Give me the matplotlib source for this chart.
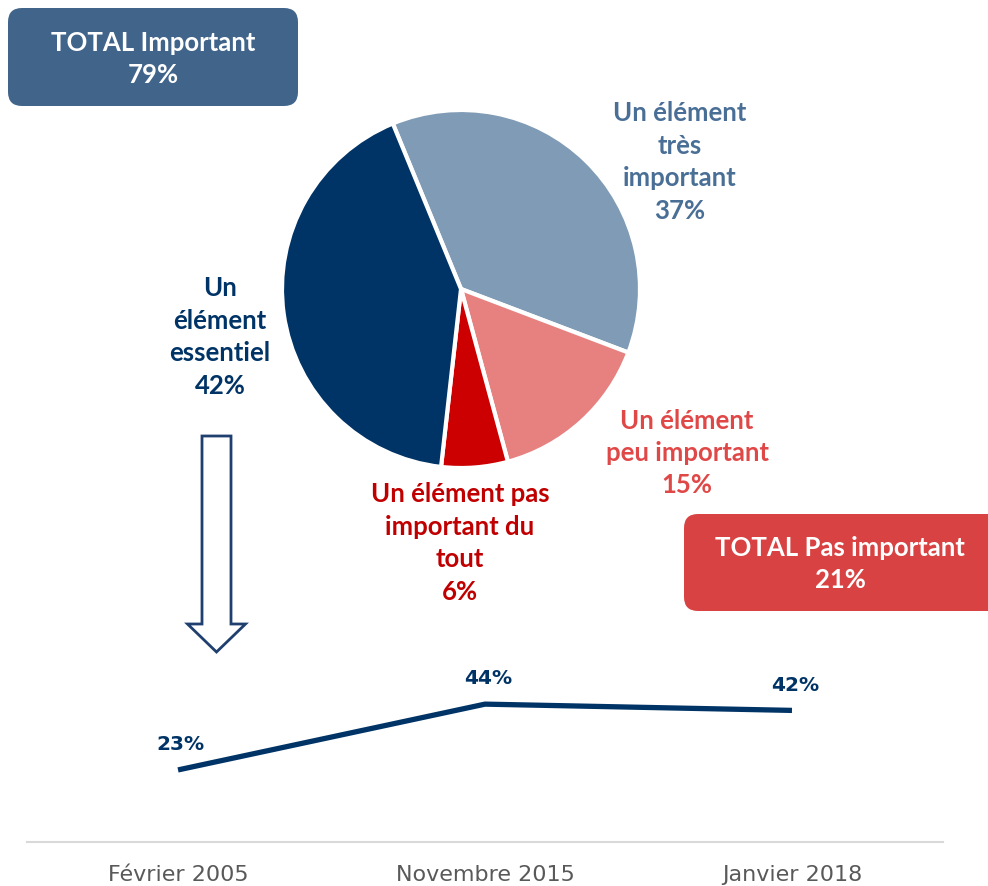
import matplotlib
matplotlib.use("Agg")
import matplotlib.pyplot as plt
from matplotlib.patches import FancyBboxPatch, FancyArrow

# pie data (clockwise from the top-left separator)
pie_labels = ["Un élément\ntrès\nimportant", "Un élément\npeu important",
              "Un élément pas\nimportant du\ntout", "Un\nélément\nessentiel"]
pie_values = [37, 15, 6, 42]
pie_colors = ["#7F9BB5", "#E6817F", "#CC0000", "#003366"]
text_colors = ["#4A6F96", "#E04848", "#C00000", "#003366"]
label_pos = [(680, 162), (687, 453), (460, 543), (220, 337)]  # pixel centres

# trend data
dates = ["Février 2005", "Novembre 2015", "Janvier 2018"]
essentiel = [23, 44, 42]

totals = [("TOTAL Important", 79), ("TOTAL Pas important", 21)]

W, H = 988, 887
fig = plt.figure(figsize=(W / 100, H / 100), dpi=100)
plt.rcParams["font.family"] = ["Lato", "DejaVu Sans"]

def fx(px):
    return px / W

def fy(py):
    return 1 - py / H

# --- pie ---
cx, cy, r = 461, 290, 179
pax = fig.add_axes([fx(cx - r), fy(cy + r), (2 * r) / W, (2 * r) / H])
pax.pie(pie_values, colors=pie_colors, startangle=112.4, counterclock=False,
        wedgeprops=dict(edgecolor="white", linewidth=3))
pax.set_xlim(-1, 1)
pax.set_ylim(-1, 1)
pax.set_aspect("equal")
pax.axis("off")

for lab, v, col, (x, y) in zip(pie_labels, pie_values, text_colors, label_pos):
    fig.text(fx(x), fy(y), f"{lab}\n{v}%", color=col, fontsize=18.5, fontweight="bold",
             ha="center", va="center", linespacing=1.42)

# --- total boxes ---
box_specs = [((0.08, 7.80, 2.90, 0.98), "#41648B", (153, 59)),
             ((6.84, 2.75, 3.30, 0.97), "#D94242", (840, 564))]
for (name, v), (rect, col, (tx, ty)) in zip(totals, box_specs):
    x0, y0, w, h = rect
    fig.patches.append(FancyBboxPatch((x0, y0), w, h, boxstyle="round,pad=0,rounding_size=0.14",
                                      transform=fig.dpi_scale_trans, facecolor=col,
                                      edgecolor="none", figure=fig))
    fig.text(fx(tx), fy(ty), f"{name}\n{v}%", color="white", fontsize=18.5, fontweight="bold",
             ha="center", va="center", linespacing=1.38)

# --- hollow arrow ---
fig.patches.append(FancyArrow(2.165, 4.50, 0, -2.16, width=0.29, head_width=0.58,
                              head_length=0.28, length_includes_head=True,
                              transform=fig.dpi_scale_trans, facecolor="white",
                              edgecolor="#1F3F6E", linewidth=2, figure=fig))

# --- line chart ---
lax = fig.add_axes([fx(27), fy(843), fx(943) - fx(27), fy(655) - fy(843)])
x = list(range(len(dates)))
lax.plot(x, essentiel, color="#003366", linewidth=3.8, solid_capstyle="butt")
for xi, v in zip(x, essentiel):
    lax.annotate(f"{v}%", (xi, v), xytext=(2, 19), textcoords="offset points",
                 ha="center", va="center", fontsize=14.5, fontweight="bold", color="#003366",
                 family=["DejaVu Sans"])
lax.set_xlim(-0.492, 2.492)
lax.set_ylim(0, 60)
lax.set_xticks(x)
lax.set_xticklabels(dates, fontsize=16, color="#595959",
                    family=["DejaVu Sans", "Liberation Sans"])
lax.tick_params(axis="x", length=0, pad=16)
lax.set_yticks([])
for s in ["top", "left", "right"]:
    lax.spines[s].set_visible(False)
lax.spines["bottom"].set_color("#D9D9D9")
lax.spines["bottom"].set_linewidth(1.5)
lax.patch.set_alpha(0)

fig.savefig("out.png", dpi=100)
